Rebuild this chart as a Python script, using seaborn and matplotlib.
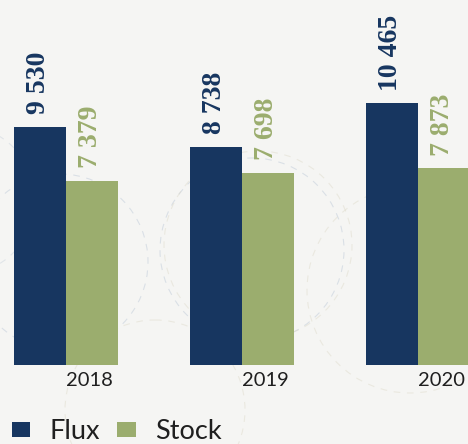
import matplotlib
matplotlib.use("Agg")
import matplotlib.pyplot as plt
from matplotlib.patches import Circle, Patch
import pandas as pd
import seaborn as sns

# Data
years = ["2018", "2019", "2020"]
series = ["Flux", "Stock"]
flux = [9530, 8738, 10465]
stock = [7379, 7698, 7873]
colors = ["#173660", "#9bad6e"]

df = pd.DataFrame({
    "annee": years * 2,
    "serie": [series[0]] * len(years) + [series[1]] * len(years),
    "valeur": flux + stock,
})

sns.set_theme(style="white")
W, H = 468, 444
BG = "#f5f5f3"
fig = plt.figure(figsize=(W / 100, H / 100), dpi=100)
fig.patch.set_facecolor(BG)

# Decorative dashed circles behind the chart (pixel coordinates)
deco = fig.add_axes([0, 0, 1, 1], zorder=0)
deco.set_xlim(0, W)
deco.set_ylim(H, 0)
deco.axis("off")
circles = [
    (60, 262, 88, "#b9c6d6"),
    (252, 250, 92, "#b9c6d6"),
    (258, 245, 94, "#ddd9c8"),
    (155, 410, 90, "#ddd9c8"),
    (410, 290, 103, "#ddd9c8"),
    (-40, 200, 75, "#c8d1dc"),
]
for cx, cy, r, c in circles:
    deco.add_patch(Circle((cx, cy), r, fill=False, edgecolor=c, lw=0.8,
                          linestyle=(0, (6, 6)), alpha=0.45))

# Bars
base_y = 365
ax = fig.add_axes([0, (H - base_y) / H, 1, base_y / H], zorder=1)
ax.set_facecolor("none")
sns.barplot(data=df, x="annee", y="valeur", hue="serie", palette=colors,
            width=0.59, saturation=1, legend=False, linewidth=0, ax=ax)
ax.set_xlim(-0.375, 2.284)
ax.set_ylim(0, 14600)

for container, col in zip(ax.containers, colors):
    for bar in container:
        v = bar.get_height()
        ax.annotate(f"{int(round(v)):,}".replace(",", " "),
                    xy=(bar.get_x() + bar.get_width() / 2, v),
                    xytext=(-1, 9), textcoords="offset points",
                    rotation=90, ha="center", va="bottom",
                    fontfamily="Liberation Serif", fontweight="bold",
                    fontsize=20, color=col)

ax.set_xlabel("")
ax.set_ylabel("")
ax.set_yticks([])
ax.set_xticks(range(len(years)))
ax.set_xticklabels(years, ha="left", fontfamily="Lato", fontsize=14.5,
                   color="#1f1f1f")
ax.tick_params(axis="x", length=0, pad=5)
for s in ax.spines.values():
    s.set_visible(False)

# Legend
handles = [Patch(facecolor=c, edgecolor="none") for c in colors]
fig.legend(handles, series, loc="lower left", bbox_to_anchor=(12 / W, 0),
           ncol=2, frameon=False, borderpad=0, borderaxespad=0,
           handlelength=0.68, handleheight=0.52, handletextpad=0.72,
           columnspacing=0.62, prop={"family": "Lato", "size": 19.5},
           labelcolor="#1f1f1f")

fig.savefig("out.png", dpi=100, facecolor=BG)
